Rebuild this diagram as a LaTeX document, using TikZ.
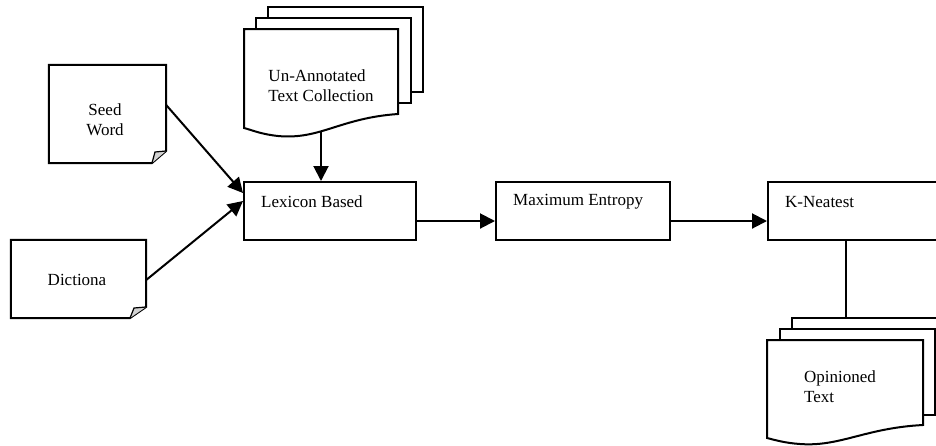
\documentclass[tikz,border=0pt]{standalone}
\usepackage{fontspec}
\setmainfont{Liberation Serif}
\usetikzlibrary{arrows.meta}
\begin{document}
\begin{tikzpicture}[x=1pt,y=-1pt,
  every node/.style={font=\fontsize{17}{20}\selectfont},
  ln/.style={line width=2pt},
  box/.style={draw,ln,rectangle,minimum width=#1,minimum height=58pt,inner sep=0pt},
  area/.style={rectangle,minimum width=#1,inner sep=0pt},
  lbl/.style={anchor=west,inner sep=0pt},
  arr/.style={ln,-{Triangle[length=15pt,width=15pt]}},
  page/.style={ln,fill=white,line join=miter},
  fold/.style={line width=1.2pt,fill=gray!35}]
\clip (0,0) rectangle (936,445);
\useasboundingbox (0,0) rectangle (936,445);
\fill[white] (0,0) rectangle (936,445);

% Seed Word note
\node[area=117pt,minimum height=98pt] (seed) at (107.5,114) {};
\draw[page] (seed.north west) -- (seed.north east) -- (166,151) -- (152,163) -- (seed.south west) -- cycle;
\draw[fold] (152,163) -- (155,152) -- (166,151);
\node[align=center] at (105,120) {Seed\\Word};

% Dictiona note
\node[area=135pt,minimum height=78pt] (dict) at (78.5,279) {};
\draw[page] (dict.north west) -- (dict.north east) -- (146,307) -- (130,318) -- (dict.south west) -- cycle;
\draw[fold] (130,318) -- (134,308) -- (146,307);
\node at (77,280) {Dictiona};

% Un-Annotated stack
\draw[page] (268,7) rectangle (423,92);
\draw[page] (256,18) rectangle (411,103);
\draw[page] (244,29) -- (398,29) -- (398,114) .. controls (340,118) and (320,140) .. (278,136) .. controls (260,134) and (252,130) .. (244,128) -- cycle;
\node[area=154pt,minimum height=1pt] (unann) at (321,131) {};
\node[align=left] at (321,86) {Un-Annotated\\Text Collection};

% Process boxes
\node[box=172pt] (lex) at (330,211) {};
\node[lbl] at (261,202) {Lexicon Based};
\node[box=174pt] (maxent) at (583,211) {};
\node[lbl] at (513,202) {Maximum Entropy};
\node[box=180pt] (knn) at (858,211) {};
\node[lbl] at (785,202) {K-Neatest};

% Opinioned stack
\draw[page] (792,318) rectangle (950,404);
\draw[page] (780,329) rectangle (935,415);
\draw[page] (767,340) -- (923,340) -- (923,425) .. controls (865,428) and (840,447) .. (800,444) .. controls (785,443) and (775,440) .. (767,438) -- cycle;
\node[lbl,align=left] at (804,387) {Opinioned\\Text};
\node[area=1pt,minimum height=1pt] (opin) at (846,318.5) {};

% Connectors
\draw[arr] ([yshift=9pt]seed.east) -- ([yshift=18pt]lex.west);
\draw[arr] ([yshift=-1pt]dict.east) -- ([yshift=10pt]lex.west);
\draw[arr] (unann.center |- 0,131) -- (lex.north -| unann.center);
\draw[arr] ([yshift=-10pt]lex.east) -- ([yshift=-10pt]maxent.west);
\draw[arr] ([yshift=-10pt]maxent.east) -- ([yshift=-10pt]knn.west);
\draw[ln] (knn.south -| opin.center) -- (opin.center);
\end{tikzpicture}
\end{document}
